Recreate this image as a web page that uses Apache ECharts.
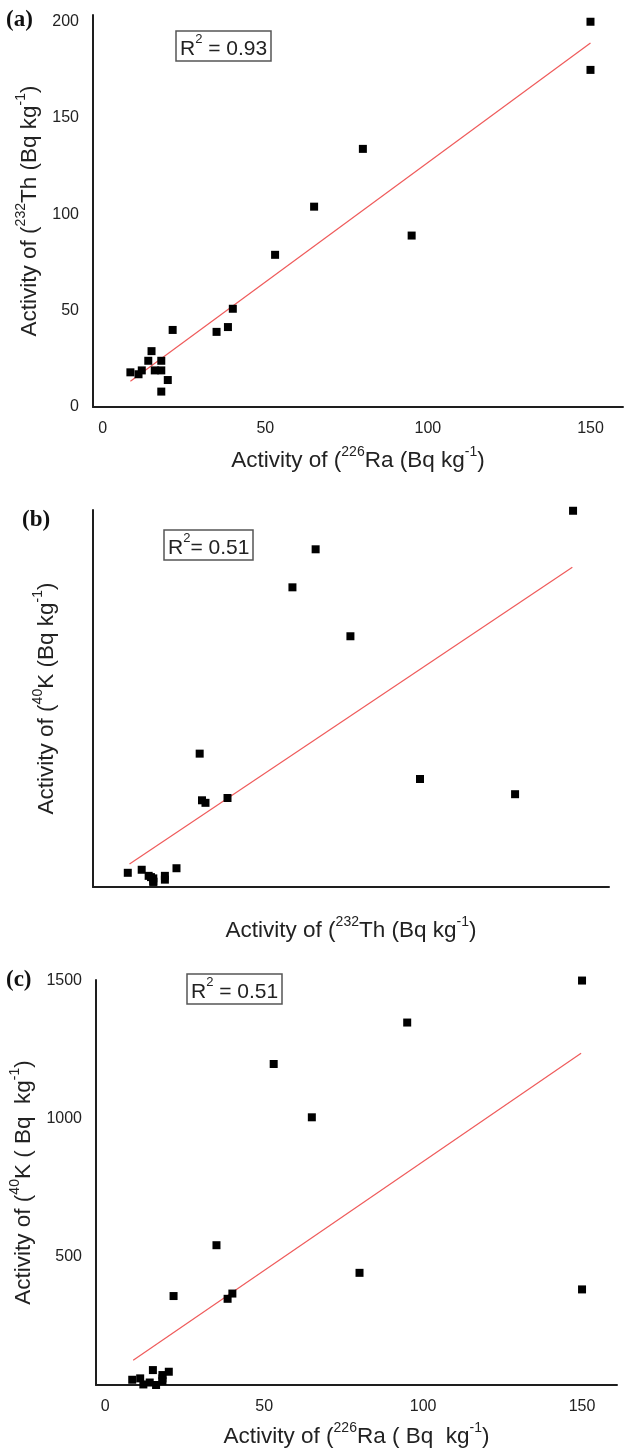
<!DOCTYPE html>
<html>
<head>
<meta charset="utf-8">
<title>Activity correlations</title>
<script src="https://cdn.jsdelivr.net/npm/echarts@6/dist/echarts.min.js"></script>
<style>
  html, body { margin: 0; padding: 0; background: #fff; }
  #chart { width: 624px; height: 1454px; }
</style>
</head>
<body>
<div id="chart"></div>
<script>
// 样品活度数据 (Bq kg-1)
const ra = [150, 150, 80, 65, 95, 53, 40, 35, 38.5, 21.5, 15, 14, 18, 8.5, 11, 12, 16, 18, 20, 18];
const th = [200, 175, 134, 104, 89, 79, 51, 39, 41.5, 40, 29, 24, 24, 18, 17, 19, 19, 19, 14, 8];
const k = [1500, 382, 442, 1005, 1348, 1198, 367, 542, 348, 358, 90, 45, 60, 55, 60, 38, 36, 50, 84, 72];

// 趋势线端点
const trendA = [[8.5, 13.4], [150, 189]];
const trendB = [[8.75, 107], [199.7, 1277]];
const trendC = [[8.8, 126], [149.7, 1237]];

// 刻度标签
const ticksA_x = [0, 50, 100, 150];
const ticksA_y = [0, 50, 100, 150, 200];
const ticksC_x = [0, 50, 100, 150];
const ticksC_y = [500, 1000, 1500];

const panelLetters = ['(a)', '(b)', '(c)'];
const r2Texts = [['R', '2', ' = 0.93'], ['R', '2', '= 0.51'], ['R', '2', ' = 0.51']];

const SANS = "'Liberation Sans', Arial, sans-serif";
const SERIF = "'Liberation Serif', 'Times New Roman', serif";

const pairs = (xs, ys) => xs.map((x, i) => [x, ys[i]]);

// 带上标的坐标轴标题
const nameStyle = {
  fontFamily: SANS,
  color: '#222',
  rich: {
    n: { fontFamily: SANS, fontSize: 22.5, color: '#222', lineHeight: 27, verticalAlign: 'bottom' },
    s: { fontFamily: SANS, fontSize: 14, color: '#222', lineHeight: 15, verticalAlign: 'top' }
  }
};

const axisCommon = (idx, min, max, ticks, name, gap) => ({
  gridIndex: idx,
  type: 'value',
  min: min,
  max: max,
  name: name,
  nameLocation: 'middle',
  nameGap: gap,
  nameTextStyle: nameStyle,
  axisLine: { show: true, onZero: false, lineStyle: { color: '#1e1e1e', width: 2 } },
  axisTick: { show: false },
  splitLine: { show: false },
  axisLabel: ticks
    ? {
        show: true,
        customValues: ticks,
        margin: 14,
        fontFamily: SANS,
        fontSize: 16,
        color: '#222',
        formatter: (v) => String(v)
      }
    : { show: false }
});

const grids = [
  { left: 93, top: 15, width: 530, height: 392 },
  { left: 93, top: 510, width: 516, height: 377 },
  { left: 96, top: 980, width: 521, height: 405 }
];

const xAxes = [
  axisCommon(0, -3, 160, ticksA_x, '{n|Activity of (}{s|226}{n|Ra (Bq kg}{s|-1}{n|)}', 38),
  axisCommon(1, -7, 215.5, null, '{n|Activity of (}{s|232}{n|Th (Bq kg}{s|-1}{n|)}', 28),
  axisCommon(2, -2.9, 161, ticksC_x, '{n|Activity of (}{s|226}{n|Ra ( Bq  kg}{s|-1}{n|)}', 36)
];

const yAxes = [
  axisCommon(0, 0, 203.5, ticksA_y, '{n|Activity of (}{s|232}{n|Th (Bq kg}{s|-1}{n|)}', 45),
  axisCommon(1, 16, 1503, null, '{n|Activity of (}{s|40}{n|K (Bq kg}{s|-1}{n|)}', 35),
  axisCommon(2, 36, 1502, ticksC_y, '{n|Activity of (}{s|40}{n|K ( Bq  kg}{s|-1}{n|)}', 51)
];

const scatter = (idx, data) => ({
  type: 'scatter',
  xAxisIndex: idx,
  yAxisIndex: idx,
  data: data,
  symbol: 'rect',
  symbolSize: 8,
  itemStyle: { color: '#000', opacity: 1 },
  z: 5,
  silent: true
});

const trend = (idx, data) => ({
  type: 'line',
  xAxisIndex: idx,
  yAxisIndex: idx,
  data: data,
  showSymbol: false,
  lineStyle: { color: '#ef5b5b', width: 1.2 },
  z: 3,
  silent: true
});

// 面板编号与 R² 标注框
const letterPos = [{ left: 6, top: 9 }, { left: 22, top: 509 }, { left: 6, top: 969 }];
const r2Pos = [{ left: 176, top: 31 }, { left: 164, top: 530 }, { left: 187, top: 974 }];

const titles = [];
panelLetters.forEach((t, i) => {
  titles.push({
    text: t,
    left: letterPos[i].left,
    top: letterPos[i].top,
    padding: 0,
    textStyle: { fontFamily: SERIF, fontWeight: 'bold', fontSize: 23, color: '#111' }
  });
});
r2Texts.forEach((p, i) => {
  titles.push({
    text: '{n|' + p[0] + '}{s|' + p[1] + '}{n|' + p[2] + '}',
    left: r2Pos[i].left,
    top: r2Pos[i].top,
    padding: [2, 4, 1, 4],
    borderColor: '#555',
    borderWidth: 1.5,
    textStyle: {
      fontFamily: SANS,
      fontWeight: 'normal',
      rich: {
        n: { fontFamily: SANS, fontWeight: 'normal', fontSize: 21, color: '#222', lineHeight: 27, verticalAlign: 'bottom' },
        s: { fontFamily: SANS, fontWeight: 'normal', fontSize: 13, color: '#222', lineHeight: 14, verticalAlign: 'top' }
      }
    }
  });
});

const option = {
  animation: false,
  backgroundColor: '#fff',
  title: titles,
  grid: grids,
  xAxis: xAxes,
  yAxis: yAxes,
  series: [
    scatter(0, pairs(ra, th)),
    trend(0, trendA),
    scatter(1, pairs(th, k)),
    trend(1, trendB),
    scatter(2, pairs(ra, k)),
    trend(2, trendC)
  ]
};

const chart = echarts.init(document.getElementById('chart'), null, { renderer: 'canvas' });
chart.setOption(option);
</script>
</body>
</html>
